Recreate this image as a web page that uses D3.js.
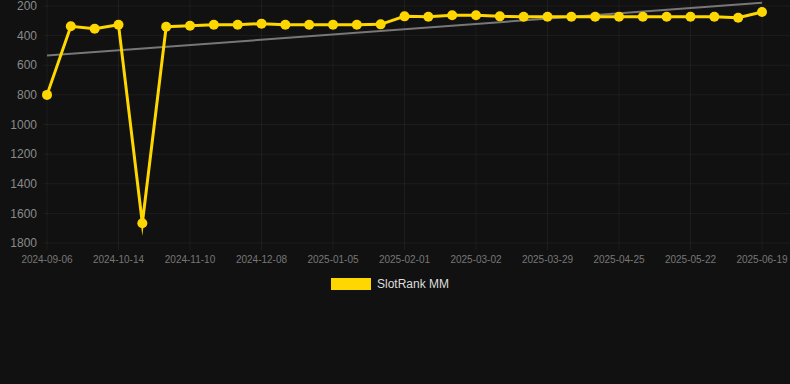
<!DOCTYPE html>
<html>
<head>
<meta charset="utf-8">
<script src="https://cdn.jsdelivr.net/npm/d3@7"></script>
<style>
  html, body { margin: 0; padding: 0; background: #111111; }
  svg { display: block; }
</style>
</head>
<body>
<svg id="chart" width="790" height="384"></svg>
<script>
const dates = [
  "2024-09-06","2024-09-19","2024-10-01","2024-10-14","2024-10-23","2024-11-01",
  "2024-11-10","2024-11-19","2024-11-28","2024-12-08","2024-12-17","2024-12-26",
  "2025-01-05","2025-01-14","2025-01-23","2025-02-01","2025-02-11","2025-02-20",
  "2025-03-02","2025-03-11","2025-03-20","2025-03-29","2025-04-07","2025-04-16",
  "2025-04-25","2025-05-04","2025-05-13","2025-05-22","2025-05-31","2025-06-09",
  "2025-06-19"
];
const rankValues = [
  800, 337, 353, 326, 1667, 340, 333, 326, 326, 319, 326, 326, 326, 326, 324,
  270, 272, 263, 263, 270, 272, 272, 272, 272, 272, 272, 272, 272, 272, 279, 240
];
const yTicks = [200, 400, 600, 800, 1000, 1200, 1400, 1600, 1800];
const seriesName = "SlotRank MM";

(function () {
const svg = d3.select("#chart");
const pLeft = 47, pRight = 762, pTop = 6, pBottom = 243;

const x = d3.scalePoint().domain(dates).range([pLeft, pRight]);
const y = d3.scaleLinear().domain([200, 1800]).range([pTop, pBottom]);

const gridColor = "rgba(255,255,255,0.05)";

// horizontal grid
svg.append("g").selectAll("line").data(yTicks).join("line")
  .attr("x1", pLeft - 4).attr("x2", 790)
  .attr("y1", d => y(d)).attr("y2", d => y(d))
  .attr("stroke", gridColor).attr("stroke-width", 1);

// vertical grid at shown ticks
const shownDates = dates.filter((d, i) => i % 3 === 0);
svg.append("g").selectAll("line").data(shownDates).join("line")
  .attr("x1", d => x(d)).attr("x2", d => x(d))
  .attr("y1", 0).attr("y2", pBottom + 7)
  .attr("stroke", gridColor).attr("stroke-width", 1);

// y labels
svg.append("g").selectAll("text").data(yTicks).join("text")
  .attr("x", 37).attr("y", d => y(d))
  .attr("dy", "0.35em")
  .attr("text-anchor", "end")
  .attr("font-family", "Liberation Sans, Arial, sans-serif")
  .attr("font-size", 12)
  .attr("fill", "#8a8a8a")
  .text(d => d);

// x labels
svg.append("g").selectAll("text").data(shownDates).join("text")
  .attr("x", d => x(d)).attr("y", 263)
  .attr("text-anchor", "middle")
  .attr("font-family", "Liberation Sans, Arial, sans-serif")
  .attr("font-size", 10)
  .attr("fill", "#777777")
  .text(d => d);

// trend line (least squares)
const n = rankValues.length;
const xs = rankValues.map((v, i) => i);
const mx = d3.mean(xs), my = d3.mean(rankValues);
let sxy = 0, sxx = 0;
xs.forEach((xi, i) => { sxy += (xi - mx) * (rankValues[i] - my); sxx += (xi - mx) * (xi - mx); });
const slope = sxy / sxx, intercept = my - slope * mx;
svg.append("line")
  .attr("x1", x(dates[0])).attr("y1", y(intercept))
  .attr("x2", x(dates[n - 1])).attr("y2", y(intercept + slope * (n - 1)))
  .attr("stroke", "#777777").attr("stroke-width", 2);

// series line
const line = d3.line().x((d, i) => x(dates[i])).y(d => y(d));
svg.append("path")
  .datum(rankValues)
  .attr("d", line)
  .attr("fill", "none")
  .attr("stroke", "#FFD700")
  .attr("stroke-width", 3)
  .attr("stroke-linejoin", "miter")
  .attr("stroke-miterlimit", 10);

// points
svg.append("g").selectAll("circle").data(rankValues).join("circle")
  .attr("cx", (d, i) => x(dates[i]))
  .attr("cy", d => y(d))
  .attr("r", 5)
  .attr("fill", "#FFD700");

// legend
svg.append("rect")
  .attr("x", 331).attr("y", 278).attr("width", 40).attr("height", 12)
  .attr("fill", "#FFD700");
svg.append("text")
  .attr("x", 377).attr("y", 284).attr("dy", "0.35em")
  .attr("font-family", "Liberation Sans, Arial, sans-serif")
  .attr("font-size", 12)
  .attr("fill", "#dddddd")
  .text(seriesName);
})();
</script>
</body>
</html>
